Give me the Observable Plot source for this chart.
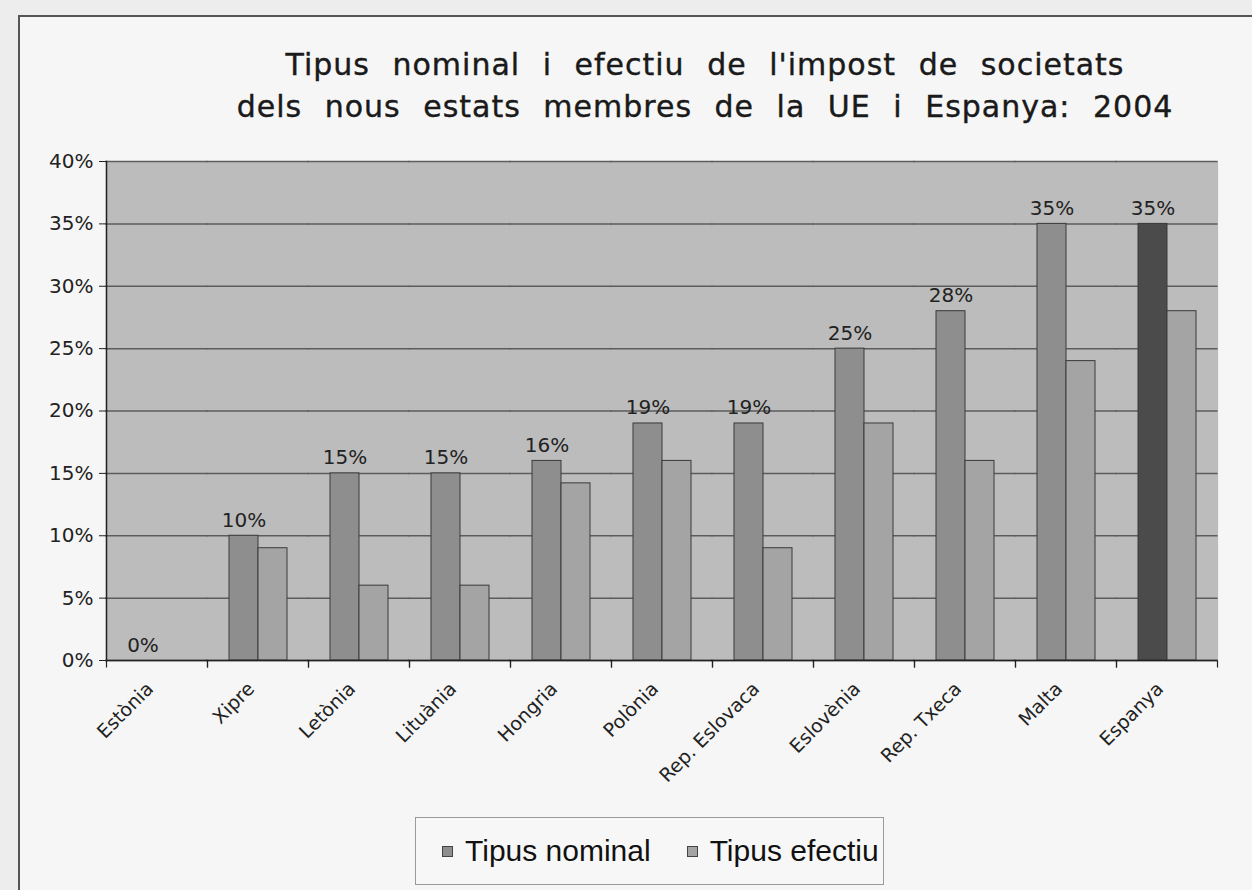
<!DOCTYPE html>
<html>
<head>
<meta charset="utf-8">
<script src="https://cdn.jsdelivr.net/npm/d3@7"></script>
<script src="https://cdn.jsdelivr.net/npm/@observablehq/plot@0.6"></script>
<style>
  html, body { margin: 0; padding: 0; background: #ededed; }
  #root { position: relative; width: 1252px; height: 890px; overflow: hidden; background: #ededed; }
  #box { position: absolute; left: 18px; top: 15px; width: 1240px; height: 880px; border-left: 2px solid #555; border-top: 2px solid #555; background: #f6f6f6; }
  #title { position: absolute; left: 105px; width: 1200px; top: 44px; text-align: center; font-family: "DejaVu Sans", sans-serif; font-size: 30px; line-height: 42px; color: #1a1a1a; letter-spacing: 1px; word-spacing: 12px; -webkit-text-stroke: 0.4px #1a1a1a; }
  #chart { position: absolute; left: 0; top: 150px; }
  #legend { position: absolute; left: 415px; top: 817px; width: 500px; height: 66px; border: 1px solid #9a9a9a; border-right: none; background: #f7f7f7; font-family: "Liberation Sans", Arial, sans-serif; font-size: 30px; color: #111; display: flex; align-items: center; overflow: hidden; }
  #legendClip { position: absolute; left: 415px; top: 817px; width: 468px; height: 68px; overflow: hidden; border-right: 1px solid #9a9a9a; }
  #legendClip #legend { left: 0; top: 0; }
  .item { display: flex; align-items: center; margin-left: 26px; white-space: nowrap; }
  .item + .item { margin-left: 36px; }
  .sw { width: 9px; height: 9px; border: 1px solid #444; margin-right: 12px; }
</style>
</head>
<body>
<div id="root">
  <div id="box"></div>
  <div id="title">Tipus nominal i efectiu de l'impost de societats<br>dels nous estats membres de la UE i Espanya: 2004</div>
  <div id="chart"></div>
  <div id="legendClip"><div id="legend"></div></div>
</div>
<script>
const countries = ["Estònia","Xipre","Letònia","Lituània","Hongria","Polònia","Rep. Eslovaca","Eslovènia","Rep. Txeca","Malta","Espanya"];
const seriesKeys = ["nominal","efectiu"];
const seriesNames = ["Tipus nominal","Tipus efectiu"];
const nominal = [0, 10, 15, 15, 16, 19, 19, 25, 28, 35, 35];
const efectiu = [0, 9, 6, 6, 14.2, 16, 9, 19, 16, 24, 28];
const yTicks = [0, 5, 10, 15, 20, 25, 30, 35, 40];

const colors = { nominal: "#8e8e8e", efectiu: "#a4a4a4", highlight: "#4b4b4b", plotBg: "#bcbcbc", grid: "#5c5c5c", ink: "#222" };

const data = [];
countries.forEach((c, i) => {
  data.push({country: c, series: "nominal", value: nominal[i]});
  data.push({country: c, series: "efectiu", value: efectiu[i]});
});
const fillOf = d => d.country === "Espanya" && d.series === "nominal" ? colors.highlight : colors[d.series];

const tickSymbol = { draw(ctx) { ctx.moveTo(0, 0); ctx.lineTo(0, 7); } };

const chart = Plot.plot({
  width: 1252, height: 660,
  marginTop: 11, marginBottom: 150, marginLeft: 105, marginRight: 34,
  style: { background: "transparent", fontFamily: "DejaVu Sans, sans-serif", fontSize: "20px", color: colors.ink },
  fx: { domain: countries, padding: 0, label: null },
  x: { domain: seriesKeys, paddingInner: 0, paddingOuter: 0.74, axis: null },
  y: { domain: [0, 40], label: null },
  marks: [
    Plot.frame({ fill: colors.plotBg, insetLeft: -0.6, insetRight: -0.6 }),
    Plot.gridY(yTicks, { stroke: colors.grid, strokeOpacity: 1, strokeWidth: 1.5, insetLeft: -0.6, insetRight: -0.6 }),
    Plot.barY(data, { fx: "country", x: "series", y: "value", fill: fillOf, stroke: "#3a3a3a", strokeWidth: 1 }),
    Plot.text(data.filter(d => d.series === "nominal"), { fx: "country", x: "series", y: "value", text: d => d.value + "%", lineAnchor: "bottom", dy: -9, fontSize: 20, fill: colors.ink }),
    Plot.ruleY([0], { stroke: colors.ink, strokeWidth: 1.5, insetLeft: -0.6, insetRight: -0.6 }),
    Plot.axisY(yTicks, { tickFormat: d => d + "%", tickSize: 7, tickPadding: 6, fontSize: 20, stroke: colors.ink, label: null }),
    Plot.frame({ anchor: "left", facetAnchor: "left", stroke: colors.ink, strokeWidth: 1.5 }),
    Plot.dot([0], { frameAnchor: "bottom-left", symbol: tickSymbol, stroke: colors.ink, fill: "none", strokeWidth: 1.2 }),
    Plot.dot([0], { frameAnchor: "bottom-right", symbol: tickSymbol, stroke: colors.ink, fill: "none", strokeWidth: 1.2 }),
    Plot.axisFx({ anchor: "bottom", rotate: -45, textAnchor: "end", tickSize: 0, tickPadding: 20, dx: -12, fontSize: 19, label: null })
  ]
});
document.getElementById("chart").appendChild(chart);

const legend = document.getElementById("legend");
seriesKeys.forEach((k, i) => {
  const it = document.createElement("div");
  it.className = "item";
  const sw = document.createElement("span");
  sw.className = "sw";
  sw.style.background = colors[k];
  const tx = document.createElement("span");
  tx.textContent = seriesNames[i];
  it.appendChild(sw); it.appendChild(tx);
  legend.appendChild(it);
});
</script>
</body>
</html>
